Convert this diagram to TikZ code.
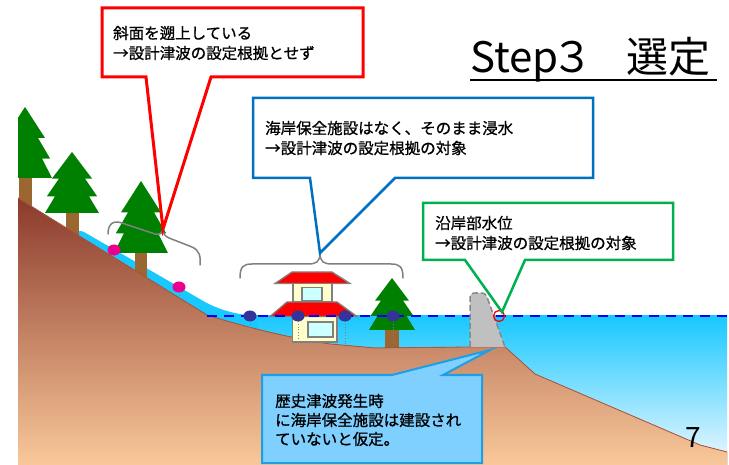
\documentclass[tikz,border=0pt]{standalone}
\usepackage{fontspec}
\setmainfont{Noto Sans CJK JP}
\newfontfamily\jp{Noto Sans CJK JP}
\newfontfamily\jpheavy[FakeBold=0.9]{Noto Sans CJK JP}
\definecolor{treegreen}{RGB}{0,128,0}
\definecolor{trunkbrown}{RGB}{156,102,48}
\definecolor{landTop}{RGB}{139,58,44}
\definecolor{landMid}{RGB}{210,148,110}
\definecolor{landBot}{RGB}{249,200,154}
\definecolor{landEdge}{RGB}{170,85,60}
\definecolor{seaTop}{RGB}{24,200,255}
\definecolor{seaBot}{RGB}{240,248,255}
\definecolor{braceGray}{RGB}{128,128,128}
\definecolor{roofRed}{RGB}{255,0,0}
\definecolor{wallCream}{RGB}{255,255,204}
\definecolor{glass}{RGB}{204,255,255}
\definecolor{dotBlue}{RGB}{51,51,153}
\definecolor{calloutBlue}{RGB}{0,112,192}
\definecolor{calloutGreen}{RGB}{0,176,80}
\definecolor{noteFill}{RGB}{128,208,255}
\definecolor{noteEdge}{RGB}{30,158,230}
\definecolor{wallGray}{RGB}{192,192,192}
\definecolor{wallEdge}{RGB}{136,136,136}

% one pine canopy: apex at (#1,#2), height #3, half base width #4
\newcommand\pinecanopy[4]{%
  \begin{scope}[shift={(#1,#2)}, xscale=#4, yscale=#3]
    \fill[treegreen] (0,0) -- (0.74,0.435) -- (0.48,0.435) -- (0.93,0.726)
      -- (0.63,0.726) -- (1,1) -- (-1,1) -- (-0.63,0.726) -- (-0.93,0.726)
      -- (-0.48,0.435) -- (-0.74,0.435) -- cycle;
  \end{scope}}

\begin{document}
\begin{tikzpicture}[x=1pt,y=-1pt,
  callouttext/.style={anchor=west, inner sep=0pt, font=\jpheavy\fontsize{15.5}{19}\selectfont},
  trunk/.style={fill=trunkbrown},
  brace/.style={draw=braceGray, line width=1.5pt, line cap=round, line join=round},
  drip/.style={draw=braceGray, line width=0.8pt, dotted},
  houseline/.style={draw=braceGray, line width=1.3pt, line join=miter},
  balloon/.style={fill=white, line join=miter},
]
\useasboundingbox (0,0) rectangle (729,465);
\fill[white] (0,0) rectangle (729,465);

% sea and run-up water on the slope
\fill[top color=seaTop, bottom color=seaBot] (207,316) rectangle (727,465);
\fill[seaTop] (74,236) .. controls (76,231) and (80,230) .. (84,232) -- (205,302)
  .. controls (218,309) and (235,315) .. (258,316) -- (258,330) -- (207,316) -- cycle;

% tree trunks
\begin{scope}
  \clip (18,0) rectangle (729,465);
  \fill[trunk] (18.5,170) rectangle (31.5,210);
\end{scope}
\fill[trunk] (65.5,205) rectangle (78.5,245);
\fill[trunk] (135,245) rectangle (147,285);
\fill[trunk] (385,325) rectangle (399,352);

% land
\fill[top color=landTop, middle color=landMid, bottom color=landBot]
  (18,198) -- (207,315) .. controls (245,327) and (290,338) .. (330,344)
  -- (375,348) -- (470,347) -- (505,347) -- (535,374) -- (700,445) -- (727,452)
  -- (727,465) -- (18,465) -- cycle;
\draw[landEdge, line width=0.8pt] (18,198) -- (207,315) .. controls (245,327) and (290,338) .. (330,344)
  -- (375,348) -- (470,347) -- (505,347) -- (535,374) -- (700,445) -- (727,452);

% tree canopies
\begin{scope}
  \clip (18,0) rectangle (729,465);
  \pinecanopy{25}{107}{71}{27}
\end{scope}
\pinecanopy{72}{152}{61}{27}
\pinecanopy{141}{181}{72}{27}
\pinecanopy{392}{278}{52}{23}

% braces
\draw[brace] (108,234) .. controls (108,224) and (113,220) .. (122,223) -- (155,234)
  .. controls (160,235.5) and (162,233) .. (163,229)
  .. controls (163,234) and (165,236) .. (169,238) -- (192,247)
  .. controls (199,250) and (201,256) .. (200,265);
\draw[brace] (240,278) .. controls (240,267) and (243,264) .. (252,264) -- (308,264)
  .. controls (316,264) and (320,262) .. (320,253)
  .. controls (320,262) and (324,264) .. (332,264) -- (391,264)
  .. controls (400,264) and (403,267) .. (403,278);

% house
\filldraw[houseline, fill=roofRed] (292,272) -- (332,272) -- (350,283.5) -- (275,283.5) -- cycle;
\filldraw[houseline, fill=wallCream] (293,283.5) rectangle (332,302);
\filldraw[houseline, fill=glass] (302,287.5) rectangle (322,300.5);
\filldraw[houseline, fill=wallCream] (292.5,316.5) rectangle (337,342);
\filldraw[houseline, fill=glass] (308,322) rectangle (333,337);
\filldraw[houseline, fill=roofRed] (287,302) -- (337,302) -- (357,316.5) -- (270,316.5) -- cycle;

% drip lines under the markers
\draw[drip] (114,255) -- (114,260);
\draw[drip] (179,292) -- (179,298);
\draw[drip] (250,321) -- (250,327);
\draw[drip] (298,321) -- (298,342);
\draw[drip] (345,321) -- (345,346);
\draw[drip] (393,321) -- (393,348);

% still water level
\draw[blue, line width=2.5pt, dash pattern=on 10pt off 7pt] (207,316) -- (727,316);

% seawall
\filldraw[fill=wallGray, draw=wallEdge, line width=1.5pt, dash pattern=on 6pt off 3pt]
  (470,347) -- (470,298) .. controls (470,294) and (472,293) .. (476,293) -- (481,293)
  .. controls (485,293) and (486,295) .. (487,297) -- (505,347);

% inundation markers
\fill[magenta] (114,250) ellipse [x radius=6.5pt, y radius=5.5pt];
\fill[magenta] (179,287) ellipse [x radius=6.5pt, y radius=5.5pt];
\foreach \px in {250,298,345,393}
  \fill[dotBlue] (\px,316) ellipse [x radius=6.5pt, y radius=5.5pt];
\draw[red, line width=1.3pt] (499,316) circle [radius=5.5pt];

% callouts
\draw[balloon, draw=red, line width=3pt] (102,8) -- (363,8) -- (363,77) -- (211,77)
  -- (163,229) -- (146,77) -- (102,77) -- cycle;
\node[callouttext] (red1) at (113,33) {斜面を遡上している};
\node[callouttext] (red2) at (113,53) {→設計津波の設定根拠とせず};

\draw[balloon, draw=calloutBlue, line width=2.5pt] (253,98) -- (593,98) -- (593,178)
  -- (395,178) -- (320,253) -- (310,178) -- (253,178) -- cycle;
\node[callouttext] (blue1) at (265,128) {海岸保全施設はなく、そのまま浸水};
\node[callouttext] (blue2) at (265,148) {→設計津波の設定根拠の対象};

\draw[balloon, draw=calloutGreen, line width=2.5pt] (423,203) -- (673,203) -- (673,260)
  -- (525,260) -- (502,312) -- (465,260) -- (423,260) -- cycle;
\node[callouttext] (green1) at (435,223) {沿岸部水位};
\node[callouttext] (green2) at (435,243) {→設計津波の設定根拠の対象};

\draw[fill=noteFill, draw=noteEdge, line width=2pt, line join=miter]
  (262,375) -- (392,375) -- (490,350) -- (443,375) -- (482,375) -- (482,463)
  -- (262,463) -- cycle;
\node[callouttext] (note1) at (275,401) {歴史津波発生時};
\node[callouttext] (note2) at (275,420) {に海岸保全施設は建設され};
\node[callouttext] (note3) at (275,439) {ていないと仮定。};

% heading and page number
\node[anchor=base west, inner sep=0pt, font=\jp\fontsize{42}{42}\selectfont] (title) at (470,73) {Step\kern-7pt ３\kern-9pt　選定};
\draw[line width=2.5pt] (470,80) -- (717,80);
\node[inner sep=0pt, font=\jp\fontsize{28}{28}\selectfont] (pagenum) at (693,438) {7};
\end{tikzpicture}
\end{document}
